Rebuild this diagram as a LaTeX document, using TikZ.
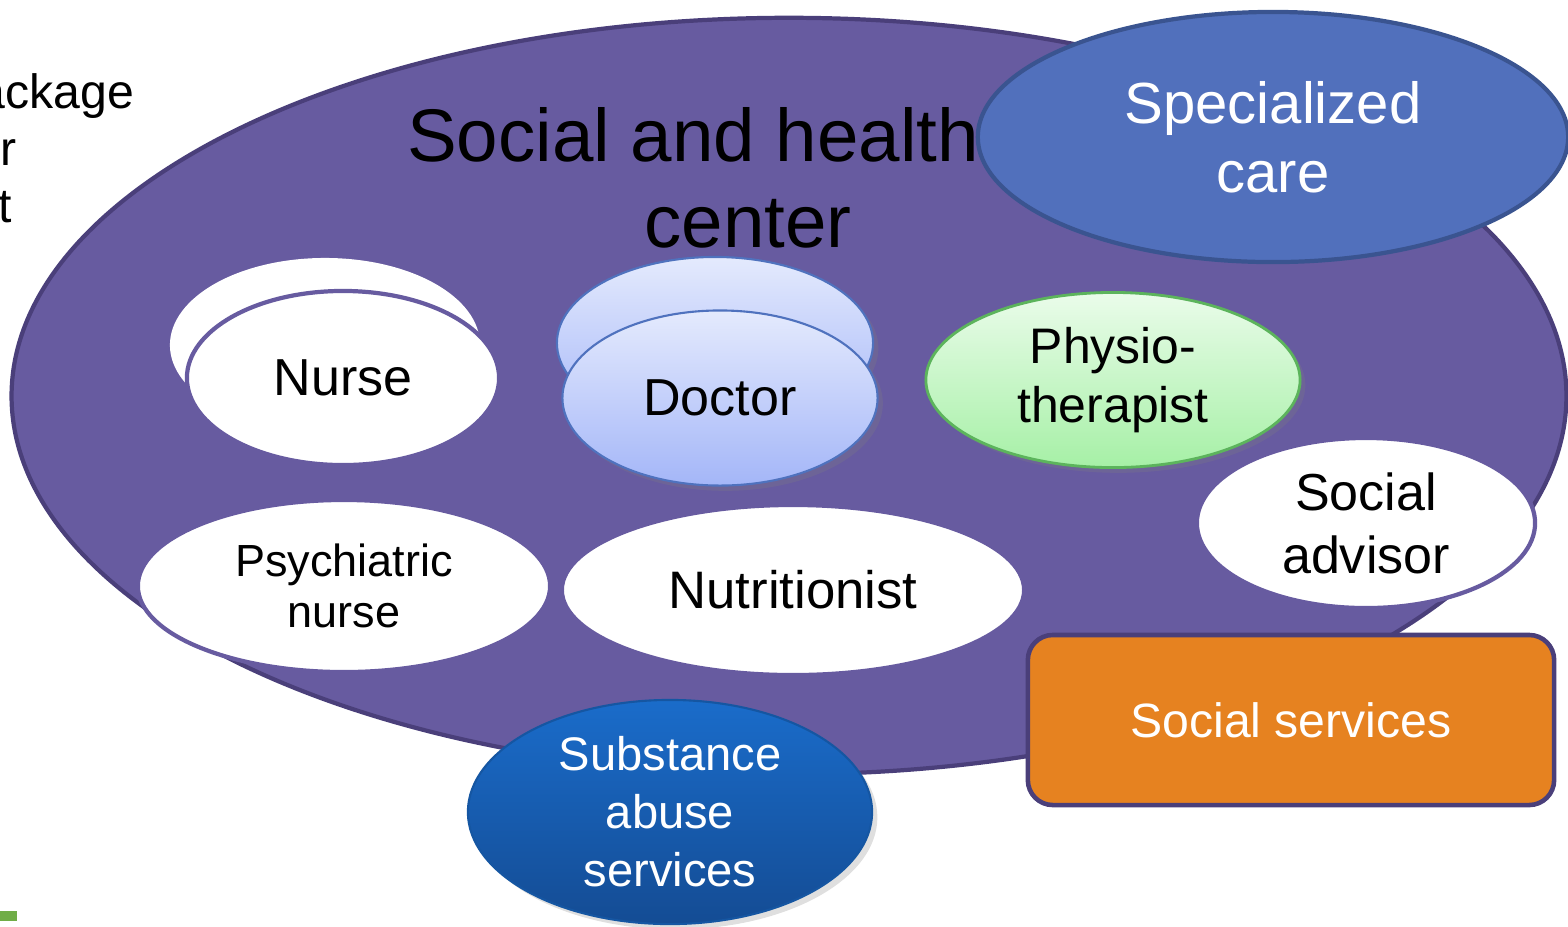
\documentclass[tikz,border=0pt]{standalone}
\usepackage{fontspec}
\setmainfont{Liberation Sans}
\usetikzlibrary{shapes.geometric,shadows}

\definecolor{hcpurple}{RGB}{103,91,160}
\definecolor{hcedge}{RGB}{74,63,122}
\definecolor{specblue}{RGB}{81,112,188}
\definecolor{specedge}{RGB}{58,84,144}
\definecolor{doctop}{RGB}{228,234,253}
\definecolor{docbot}{RGB}{164,182,248}
\definecolor{docedge}{RGB}{79,114,190}
\definecolor{phystop}{RGB}{234,252,234}
\definecolor{physbot}{RGB}{166,240,166}
\definecolor{physedge}{RGB}{92,180,92}
\definecolor{subtop}{RGB}{26,108,202}
\definecolor{subbot}{RGB}{20,76,148}
\definecolor{socorange}{RGB}{230,130,32}
\definecolor{bargreen}{RGB}{112,173,71}

\newcommand{\fs}[2]{\fontsize{#1pt}{#2pt}\selectfont}

\begin{document}
\begin{tikzpicture}
	[x=0.01cm,y=-0.01cm,
	 role/.style={ellipse, inner sep=0pt, align=center},
	 wrole/.style={role, fill=white, draw=hcpurple, line width=1.2pt},
	 soft/.style={drop shadow={opacity=0.25, shadow xshift=1.5pt, shadow yshift=-1.5pt}},
	 docrole/.style={role, soft, top color=doctop, bottom color=docbot, draw=docedge, line width=0.6pt},
	 frag/.style={anchor=base east, inner sep=0pt, font=\fs{13.7}{16}}]
	\useasboundingbox (0,0) rectangle (1568,926);
	\clip (0,0) rectangle (1568,926);
	\fill[bargreen] (0,911) rectangle (17,921);
	\node[frag] (frag1) at (135,108) {ackage};
	\node[frag] (frag2) at (17,165) {r};
	\node[frag] (frag3) at (13,222) {t};
	
	\node[ellipse, fill=hcpurple, draw=hcedge, line width=1.2pt, minimum width=15.54cm, minimum height=7.56cm] (shc) at (789,396) {};
	\node[align=center, inner sep=0pt, font=\fs{21.2}{24.5}] (title) at (693,178) {Social and health\\\hspace*{1.1cm}center};
	\node[role, fill=specblue, draw=specedge, line width=1.2pt, text=white, minimum width=5.9cm, minimum height=2.5cm, font=\fs{16.5}{19.6}] (spec) at (1273,137) {Specialized\\care};
	
	\node[role, fill=white, minimum width=3.1cm, minimum height=1.74cm] (nurseb) at (325,345) {};
	\node[wrole, minimum width=3.12cm, minimum height=1.74cm, font=\fs{14.8}{17}] (nurse) at (343,378) {Nurse};
	\node[docrole, minimum width=3.16cm, minimum height=1.72cm] (doctorb) at (715,343) {};
	\node[docrole, minimum width=3.15cm, minimum height=1.75cm, font=\fs{14.8}{17}] (doctor) at (720,398) {Doctor};
	\node[role, soft, top color=phystop, bottom color=physbot, draw=physedge, line width=0.8pt, minimum width=3.74cm, minimum height=1.75cm, font=\fs{14.2}{16.8}] (physio) at (1113,380) {Physio-\\therapist};
	\node[wrole, minimum width=3.38cm, minimum height=1.7cm, font=\fs{14.8}{17.9}] (advisor) at (1366,523) {Social\\advisor};
	\node[wrole, minimum width=4.12cm, minimum height=1.72cm, font=\fs{12.8}{14.5}] (psych) at (344,586) {Psychiatric\\nurse};
	\node[wrole, minimum width=4.62cm, minimum height=1.7cm, font=\fs{15}{17}] (nutri) at (793,590) {Nutritionist};
	
	\node[role, soft, top color=subtop, bottom color=subbot, draw=subtop!80!black, line width=0.6pt, text=white, minimum width=4.04cm, minimum height=2.24cm, font=\fs{13.4}{16.5}] (subst) at (670,812) {Substance\\abuse\\services};
	\node[rectangle, rounded corners=0.25cm, fill=socorange, draw=hcedge, line width=1.3pt, text=white, minimum width=5.26cm, minimum height=1.7cm, font=\fs{13.7}{16}] (socserv) at (1291,720) {Social services};
\end{tikzpicture}
\end{document}
